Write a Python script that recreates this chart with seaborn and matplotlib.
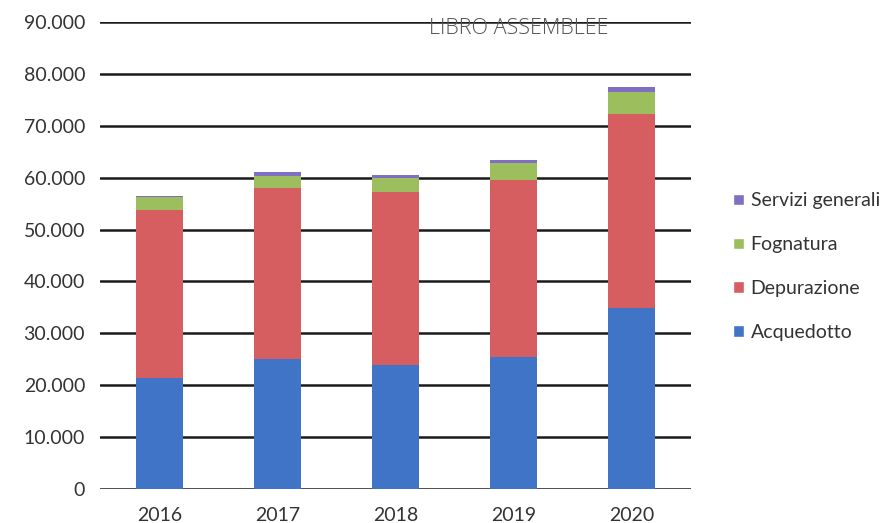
import matplotlib
matplotlib.use("Agg")
import matplotlib.pyplot as plt
import seaborn as sns
import numpy as np
import pandas as pd
from matplotlib.ticker import FuncFormatter
from matplotlib.patches import Patch

years = ["2016", "2017", "2018", "2019", "2020"]
acquedotto = [21400, 25000, 23800, 25500, 34800]
depurazione = [32400, 33000, 33500, 34100, 37500]
fognatura = [2500, 2400, 2700, 3300, 4300]
servizi = [200, 600, 500, 500, 800]

series_names = ["Acquedotto", "Depurazione", "Fognatura", "Servizi generali"]
series_vals = [acquedotto, depurazione, fognatura, servizi]
colors = ["#3F74C6", "#D65E60", "#9CBE5C", "#7E6EC4"]

sns.set_theme(style="white")
plt.rcParams["font.family"] = ["Lato", "DejaVu Sans"]

fig = plt.figure(figsize=(8.88, 5.23), dpi=100)
ax = fig.add_axes([0.113, 0.065, 0.665, 0.893])

cum = np.cumsum(np.array(series_vals), axis=0)
for i in range(len(series_names) - 1, -1, -1):
    df = pd.DataFrame({"year": years, "value": cum[i]})
    sns.barplot(data=df, x="year", y="value", color=colors[i], width=0.4,
                saturation=1, ax=ax, zorder=3, linewidth=0, edgecolor="none")

ax.set_ylim(0, 90000)
ax.set_yticks(np.arange(0, 90001, 10000))
ax.yaxis.set_major_formatter(FuncFormatter(lambda v, p: "0" if v == 0 else f"{int(v):,}".replace(",", ".")))
ax.grid(axis="y", color="#1a1a1a", linewidth=1.8, zorder=1)
ax.set_axisbelow(True)
for s in ax.spines.values():
    s.set_visible(False)
ax.set_xlabel("")
ax.set_ylabel("")
ax.tick_params(axis="both", length=0, labelsize=14, labelcolor="#333333")
ax.tick_params(axis="y", pad=11)
ax.tick_params(axis="x", pad=13)
ax.set_xlim(-0.5, 4.5)

ax.text(0.708, 0.985, "LIBRO ASSEMBLEE", transform=ax.transAxes, ha="center",
        va="center", fontsize=15.5, color="#555555", fontweight="light",
        family=["Open Sans", "DejaVu Sans"])

handles = [Patch(facecolor=colors[i], label=series_names[i]) for i in range(3, -1, -1)]
fig.legend(handles=handles, loc="center left", bbox_to_anchor=(0.806, 0.49),
           frameon=False, fontsize=14, handlelength=0.55, handleheight=0.55,
           handletextpad=0.35, labelspacing=1.38, labelcolor="#333333")

fig.savefig("out.png", dpi=100)
